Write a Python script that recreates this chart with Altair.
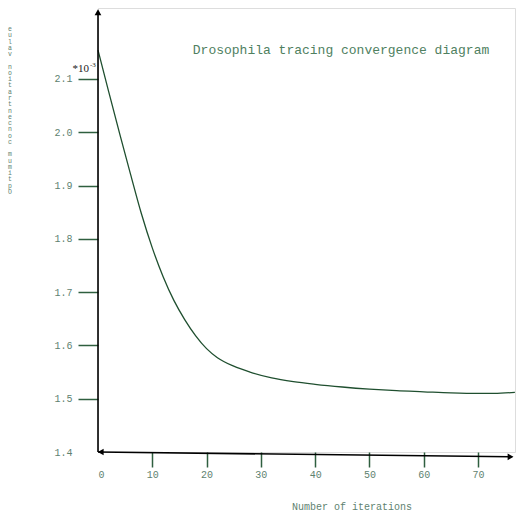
import altair as alt
import pandas as pd

# ---- data ----
iterations = [0, 2, 4, 6, 8, 10, 12, 14, 16, 18, 20, 22, 25, 28, 32, 36, 40, 45, 50, 55, 60, 65, 70, 73, 76.8]
fitness = [2.154, 2.075, 1.997, 1.921, 1.847, 1.783, 1.729, 1.684, 1.648, 1.618, 1.594, 1.577, 1.561,
           1.550, 1.539, 1.532, 1.527, 1.522, 1.518, 1.515, 1.513, 1.511, 1.510, 1.510, 1.512]
x_ticks = [0, 10, 20, 30, 40, 50, 60, 70]
y_ticks = [1.4, 1.5, 1.6, 1.7, 1.8, 1.9, 2.0, 2.1]
title_text = "Drosophila tracing convergence diagram"
x_title = "Number of iterations"
y_title = "Optimum concentration value"
multiplier = "*10"
exponent = "-3"

X_DOM = [0, 76.82]
Y_DOM = [1.4, 2.2332]

LINE_C = "#1f4f2f"
TICK_C = "#2f5f3f"
LAB_C = "#5e8270"

df = pd.DataFrame({"iter": iterations, "fit": fitness})

xs = alt.Scale(domain=X_DOM, nice=False, zero=False)
ys = alt.Scale(domain=Y_DOM, nice=False, zero=False)

line = alt.Chart(df).mark_line(color=LINE_C, strokeWidth=1.3, interpolate="monotone").encode(
    x=alt.X("iter:Q", scale=xs, axis=alt.Axis(
        values=x_ticks, domain=False, grid=False, tickSize=15, tickWidth=1.5,
        tickColor={"condition": {"test": "datum.value == 0", "value": "transparent"}, "value": TICK_C},
        labelFont="Liberation Mono", labelFontSize=10, labelColor=LAB_C, labelPadding=2,
        labelAngle=0, title=None)),
    y=alt.Y("fit:Q", scale=ys, axis=alt.Axis(
        values=y_ticks, format=".1f", domain=False, grid=False, tickSize=20, tickWidth=1.5,
        tickColor={"condition": {"test": "datum.value == 1.4", "value": "transparent"}, "value": TICK_C},
        labelFont="Liberation Mono", labelFontSize=10, labelColor=LAB_C, labelPadding=6,
        title=None)),
)

# axis lines (hand-drawn style, x axis slightly slanted)
axes_df = pd.DataFrame({
    "x": [X_DOM[0], X_DOM[0]],
    "y": [Y_DOM[0], Y_DOM[0]],
    "x2": [X_DOM[0], 76.3],
    "y2": [Y_DOM[1] - 0.01, Y_DOM[0] - 0.009],
})
axes = alt.Chart(axes_df).mark_rule(color="black", strokeWidth=1.6).encode(
    x=alt.X("x:Q", scale=xs), y=alt.Y("y:Q", scale=ys), x2="x2:Q", y2="y2:Q")

arrow_up = alt.Chart(pd.DataFrame({"x": [X_DOM[0]], "y": [Y_DOM[1] - 0.008]})).mark_point(
    shape="triangle-up", filled=True, size=45, color="black", opacity=1).encode(
    x=alt.X("x:Q", scale=xs), y=alt.Y("y:Q", scale=ys))
arrow_right = alt.Chart(pd.DataFrame({"x": [76.0], "y": [Y_DOM[0] - 0.009]})).mark_point(
    shape="triangle-right", filled=True, size=45, color="black", opacity=1).encode(
    x=alt.X("x:Q", scale=xs), y=alt.Y("y:Q", scale=ys))
arrow_left = alt.Chart(pd.DataFrame({"x": [0.5], "y": [Y_DOM[0]]})).mark_point(
    shape="triangle-left", filled=True, size=45, color="black", opacity=1).encode(
    x=alt.X("x:Q", scale=xs), y=alt.Y("y:Q", scale=ys))

title = alt.Chart(pd.DataFrame({"t": [title_text]})).mark_text(
    font="Liberation Mono", fontSize=13, color="#4f7f5f", align="center", baseline="middle").encode(
    text="t:N", x=alt.value(243), y=alt.value(42))

xlab = alt.Chart(pd.DataFrame({"t": [x_title]})).mark_text(
    font="Liberation Mono", fontSize=10, color=LAB_C, align="center", baseline="middle").encode(
    text="t:N", x=alt.value(254), y=alt.value(499))

mult = alt.Chart(pd.DataFrame({"t": [multiplier]})).mark_text(
    font="Liberation Serif", fontSize=11, color="#222222", align="right", baseline="middle").encode(
    text="t:N", x=alt.value(-9), y=alt.value(61))
expo = alt.Chart(pd.DataFrame({"t": [exponent]})).mark_text(
    font="Liberation Serif", fontSize=7, color="#222222", align="left", baseline="middle").encode(
    text="t:N", x=alt.value(-8), y=alt.value(57))

# vertical stacked y-axis title (characters stacked, read bottom to top)
chars = list(y_title)[::-1]
ydf = pd.DataFrame({"ch": chars, "i": list(range(len(chars)))})
ylab = alt.Chart(ydf).transform_calculate(py="21 + datum.i * 6.27").mark_text(
    font="Liberation Mono", fontSize=6.5, color="#5e8270", align="center", baseline="middle").encode(
    text="ch:N", x=alt.value(-88), y=alt.Y("py:Q", scale=None))

chart = alt.layer(line, axes, arrow_up, arrow_right, arrow_left, title, xlab, mult, expo, ylab).properties(
    width=417, height=444, autosize="none",
    padding={"left": 98, "top": 8, "right": 2, "bottom": 65},
).configure_view(stroke=None).configure(background="white")

chart.save("out.html", embed_options={"renderer": "svg", "actions": False})
